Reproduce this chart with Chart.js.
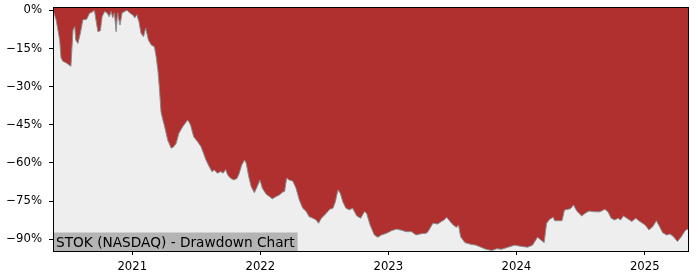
<!DOCTYPE html>
<html>
<head>
<meta charset="utf-8">
<script src="https://cdn.jsdelivr.net/npm/chart.js@4.4.1/dist/chart.umd.min.js"></script>
<style>
  html, body { margin: 0; padding: 0; background: #fff; }
</style>
</head>
<body>
<canvas id="ddChart" width="700" height="280"></canvas>
<script>
// STOK drawdown from running high, in percent
const dates = [
  '2020-05-20', '2020-05-29', '2020-06-08', '2020-06-12', '2020-06-17', '2020-06-26', '2020-07-10', '2020-07-16',
  '2020-07-21', '2020-07-24', '2020-07-30', '2020-08-06', '2020-08-13', '2020-08-24', '2020-09-01', '2020-09-11',
  '2020-09-15', '2020-09-21', '2020-09-25', '2020-10-02', '2020-10-07', '2020-10-14', '2020-10-21', '2020-10-27',
  '2020-11-02', '2020-11-06', '2020-11-11', '2020-11-16', '2020-11-20', '2020-11-27', '2020-12-03', '2020-12-10',
  '2020-12-17', '2020-12-24', '2021-01-04', '2021-01-08', '2021-01-14', '2021-01-20', '2021-01-26', '2021-02-02',
  '2021-02-08', '2021-02-16', '2021-02-24', '2021-03-05', '2021-03-10', '2021-03-15', '2021-03-19', '2021-03-24',
  '2021-03-29', '2021-04-02', '2021-04-12', '2021-04-22', '2021-04-29', '2021-05-06', '2021-05-14', '2021-05-25',
  '2021-06-01', '2021-06-08', '2021-06-16', '2021-06-25', '2021-07-06', '2021-07-16', '2021-07-23', '2021-07-30',
  '2021-08-06', '2021-08-16', '2021-08-23', '2021-09-01', '2021-09-10', '2021-09-17', '2021-09-24', '2021-09-30',
  '2021-10-08', '2021-10-18', '2021-10-27', '2021-11-02', '2021-11-09', '2021-11-17', '2021-11-22', '2021-11-29',
  '2021-12-06', '2021-12-15', '2021-12-23', '2021-12-31', '2022-01-07', '2022-01-18', '2022-01-27', '2022-02-04',
  '2022-02-15', '2022-02-24', '2022-03-07', '2022-03-11', '2022-03-17', '2022-03-25', '2022-04-04', '2022-04-13',
  '2022-04-22', '2022-05-02', '2022-05-12', '2022-05-20', '2022-05-31', '2022-06-09', '2022-06-16', '2022-06-24',
  '2022-07-08', '2022-07-18', '2022-07-27', '2022-08-03', '2022-08-10', '2022-08-17', '2022-08-24', '2022-09-02',
  '2022-09-12', '2022-09-21', '2022-10-03', '2022-10-14', '2022-10-25', '2022-10-31', '2022-11-10', '2022-11-22',
  '2022-12-02', '2022-12-12', '2022-12-27', '2023-01-10', '2023-01-24', '2023-02-07', '2023-02-21', '2023-03-08',
  '2023-03-21', '2023-04-05', '2023-04-19', '2023-04-24', '2023-05-08', '2023-05-22', '2023-06-01', '2023-06-09',
  '2023-06-16', '2023-06-26', '2023-07-05', '2023-07-14', '2023-07-20', '2023-07-26', '2023-08-07', '2023-08-25',
  '2023-09-08', '2023-09-22', '2023-10-06', '2023-10-23', '2023-11-06', '2023-11-20', '2023-12-08', '2023-12-27',
  '2024-01-16', '2024-02-02', '2024-02-16', '2024-03-01', '2024-03-11', '2024-03-20', '2024-03-27', '2024-04-05',
  '2024-04-15', '2024-04-19', '2024-05-10', '2024-05-17', '2024-06-03', '2024-06-12', '2024-06-21', '2024-07-05',
  '2024-07-15', '2024-07-26', '2024-08-12', '2024-08-26', '2024-09-09', '2024-09-18', '2024-09-27', '2024-10-07',
  '2024-10-17', '2024-10-24', '2024-11-01', '2024-11-14', '2024-11-25', '2024-12-06', '2024-12-18', '2025-01-02',
  '2025-01-13', '2025-01-24', '2025-02-03', '2025-02-12', '2025-02-21', '2025-03-04', '2025-03-14', '2025-03-24',
  '2025-04-04', '2025-04-15', '2025-04-24', '2025-05-01', '2025-05-07'
];
const drawdown = [
  0, -3.8, -11.7, -18.7, -20, -20.6, -22, -7.8,
  -6.4, -11.7, -13, -9, -3.8, -3.5, -1.2, -0.5,
  0, -5, -8.4, -8, -2.5, -0.5, -1, -2.5,
  -0.5, -3, -1, -8.4, -1, -5.8, -1, -0.5,
  0, -1, -2, -3, -1.7, -4.5, -9, -10.4,
  -7, -11.7, -13.6, -14.3, -18.2, -23.5, -30, -40,
  -43, -45, -51, -54.2, -53.6, -52.3, -48.3, -45.7,
  -44.4, -43.1, -45, -49.7, -51.6, -53.6, -56.2, -58.8,
  -60.8, -63.4, -62.8, -64, -63.4, -64, -62.6, -64.7,
  -66, -66.7, -66, -64, -60.8, -58.8, -60.2, -65.4,
  -69.3, -71.7, -69.3, -66.7, -70, -72.3, -73.2, -74.1,
  -73.2, -72.6, -71.3, -71.3, -66, -66.7, -67.2, -70,
  -74.5, -77.8, -79.1, -81.1, -81.7, -82.4, -83.7, -81.7,
  -79.8, -78.2, -77.8, -75.2, -70.6, -71.9, -75.2, -77.8,
  -78.4, -77.8, -80.8, -81.7, -79.1, -79.8, -84.4, -88.3,
  -89.2, -88.3, -87.6, -86.6, -86, -86.4, -87, -87,
  -88.3, -87.8, -87.6, -87, -83.7, -84, -83, -82.4,
  -81.3, -83, -84.4, -85.3, -84.4, -89, -91.3, -92,
  -92.3, -93.1, -93.9, -94.4, -93.7, -93.9, -93.1, -92.3,
  -92.8, -93.1, -92.3, -89.2, -90.3, -91.3, -83.7, -82.1,
  -81.3, -82.7, -82.7, -78.5, -78, -76.5, -78.9, -80.8,
  -79.8, -78.9, -79.2, -79.2, -78.2, -79.2, -81.7, -82.4,
  -81.7, -82.4, -80.8, -82, -83, -81.7, -83, -84.4,
  -86.3, -85, -82.7, -85, -87.4, -88.3, -87.9, -89,
  -90.9, -89, -87, -86, -86.3
];
const yearTicks = ['2021', '2022', '2023', '2024', '2025'];
const pctTicks = [0, -15, -30, -45, -60, -75, -90];
const chartLabel = 'STOK (NASDAQ) - Drawdown Chart';

const points = dates.map((d, i) => ({ x: Date.parse(d), y: drawdown[i] }));

// grey axes face, label box in the corner, black frame round the plot
const plotFrame = {
  id: 'plotFrame',
  beforeDatasetsDraw(chart) {
    const { ctx, chartArea: a } = chart;
    ctx.save();
    ctx.fillStyle = '#eeeeee';
    ctx.fillRect(a.left, a.top, a.width, a.height);
    ctx.restore();
  },
  afterDatasetsDraw(chart) {
    const { ctx, chartArea: a } = chart;
    ctx.save();
    ctx.font = '13.7px "DejaVu Sans"';
    const w = ctx.measureText(chartLabel).width;
    ctx.fillStyle = '#b4b4b4';
    ctx.fillRect(a.left, a.bottom - 18.5, w + 6, 18.5);
    ctx.fillStyle = '#000';
    ctx.textBaseline = 'alphabetic';
    ctx.fillText(chartLabel, a.left + 3, a.bottom - 4);
    ctx.strokeStyle = '#000';
    ctx.lineWidth = 1;
    ctx.strokeRect(a.left + 0.5, a.top + 0.5, a.width - 1, a.height);
    ctx.restore();
  }
};

const tickFont = { family: '"DejaVu Sans"', size: 11.7 };

new Chart(document.getElementById('ddChart'), {
  type: 'line',
  data: {
    datasets: [{
      data: points,
      borderColor: '#8c8c8c',
      borderWidth: 1,
      backgroundColor: 'rgb(176, 48, 48)',
      fill: 'end',
      pointRadius: 0,
      tension: 0
    }]
  },
  options: {
    responsive: false,
    animation: false,
    devicePixelRatio: 1,
    layout: { padding: { top: 7, right: 11, left: 0, bottom: 0 } },
    plugins: {
      legend: { display: false },
      tooltip: { enabled: false }
    },
    scales: {
      x: {
        type: 'linear',
        min: Date.parse(dates[0]),
        max: Date.parse(dates[dates.length - 1]),
        afterBuildTicks: (scale) => {
          scale.ticks = yearTicks.map(y => ({ value: Date.parse(y + '-01-01') }));
        },
        afterFit: (scale) => {
          scale.height = 29;
          scale.paddingLeft = 0;
          scale.paddingRight = 0;
        },
        ticks: {
          autoSkip: false,
          maxRotation: 0,
          color: '#000',
          font: tickFont,
          padding: 5,
          callback: (v) => String(new Date(v).getUTCFullYear())
        },
        grid: { drawOnChartArea: false, drawTicks: true, tickLength: 4, color: '#000' },
        border: { display: false }
      },
      y: {
        min: -94.6,
        max: 1.3,
        afterBuildTicks: (scale) => {
          scale.ticks = pctTicks.map(v => ({ value: v }));
        },
        afterFit: (scale) => {
          scale.width = 53;
          scale.paddingTop = 0;
          scale.paddingBottom = 0;
        },
        ticks: {
          color: '#000',
          font: tickFont,
          padding: 7,
          callback: (v) => (v < 0 ? '\u2212' + Math.abs(v) : v) + '%'
        },
        grid: { drawOnChartArea: false, drawTicks: true, tickLength: 4, color: '#000' },
        border: { display: false }
      }
    }
  },
  plugins: [plotFrame]
});
</script>
</body>
</html>
